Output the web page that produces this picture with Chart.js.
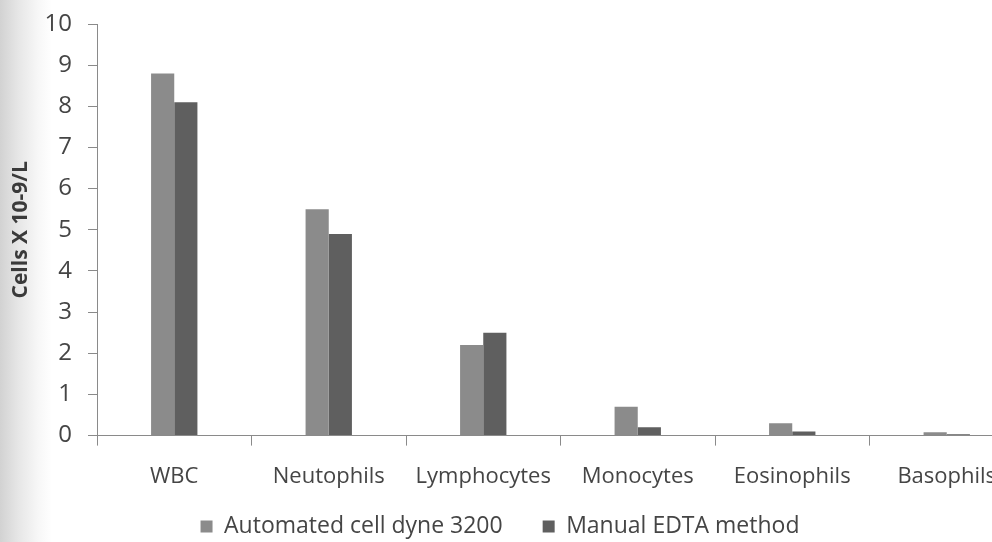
<!DOCTYPE html>
<html>
<head>
<meta charset="utf-8">
<script src="https://cdn.jsdelivr.net/npm/chart.js@4"></script>
<style>
  html, body { margin: 0; padding: 0; background: #fff; overflow: hidden; }
  .chart {
    position: relative; width: 1024px; height: 581px;
    background: linear-gradient(to right, #d2d2d2 0px, #e6e6e6 18px, #f7f7f7 38px, #fff 52px);
  }
</style>
</head>
<body>
<div class="chart"><canvas id="myChart"></canvas></div>
<script>
const categories = ['WBC', 'Neutophils', 'Lymphocytes', 'Monocytes', 'Eosinophils', 'Basophils'];
const automated = [8.8, 5.5, 2.2, 0.7, 0.3, 0.08];
const manual = [8.1, 4.9, 2.5, 0.2, 0.1, 0.03];
const seriesNames = ['Automated cell dyne 3200', 'Manual EDTA method'];
const yTicks = [0, 1, 2, 3, 4, 5, 6, 7, 8, 9, 10];

const textColor = '#454545';
const axisColor = '#8a8a8a';

// move the legend up under the labels and a bit left, like in the picture
const shiftLegend = {
    id: 'shiftLegend',
    afterLayout(chart) {
        chart.legend.left -= 12;
        chart.legend.right -= 12;
        chart.legend.top -= 33;
        chart.legend.bottom -= 33;
    }
};

const ctx = document.getElementById('myChart').getContext('2d');
new Chart(ctx, {
    type: 'bar',
    data: {
        labels: categories,
        datasets: [{
            label: seriesNames[0],
            data: automated,
            backgroundColor: '#8b8b8b',
            categoryPercentage: 0.3,
            barPercentage: 1.0
        }, {
            label: seriesNames[1],
            data: manual,
            backgroundColor: '#5f5f5f',
            categoryPercentage: 0.3,
            barPercentage: 1.0
        }]
    },
    options: {
        responsive: true,
        maintainAspectRatio: false,
        animation: false,
        layout: { padding: { top: 24, right: 0, bottom: 0, left: 0 } },
        plugins: {
            legend: {
                position: 'bottom',
                labels: {
                    boxWidth: 12,
                    boxHeight: 12,
                    padding: 40,
                    color: textColor,
                    font: { family: 'Open Sans', size: 23 }
                }
            },
            tooltip: { enabled: false }
        },
        scales: {
            x: {
                grid: {
                    offset: true,
                    drawOnChartArea: false,
                    color: axisColor,
                    tickLength: 10
                },
                border: { color: axisColor },
                ticks: {
                    color: textColor,
                    padding: 18,
                    font: { family: 'Open Sans', size: 22 }
                }
            },
            y: {
                min: 0,
                max: 10,
                afterBuildTicks(scale) {
                    scale.ticks = yTicks.map(v => ({ value: v }));
                },
                afterFit(scale) {
                    scale.width = 97;
                    scale.paddingTop = 0;
                    scale.paddingBottom = 0;
                },
                grid: {
                    drawOnChartArea: false,
                    color: axisColor,
                    tickLength: 9
                },
                border: { color: axisColor },
                ticks: {
                    color: textColor,
                    padding: 16,
                    font: { family: 'Open Sans', size: 24 }
                },
                title: {
                    display: true,
                    text: 'Cells X 10-9/L',
                    color: '#3a3a3a',
                    padding: { top: 8, bottom: 0 },
                    font: { family: 'Open Sans', size: 21, weight: 'bold' }
                }
            }
        }
    },
    plugins: [shiftLegend]
});
</script>
</body>
</html>
